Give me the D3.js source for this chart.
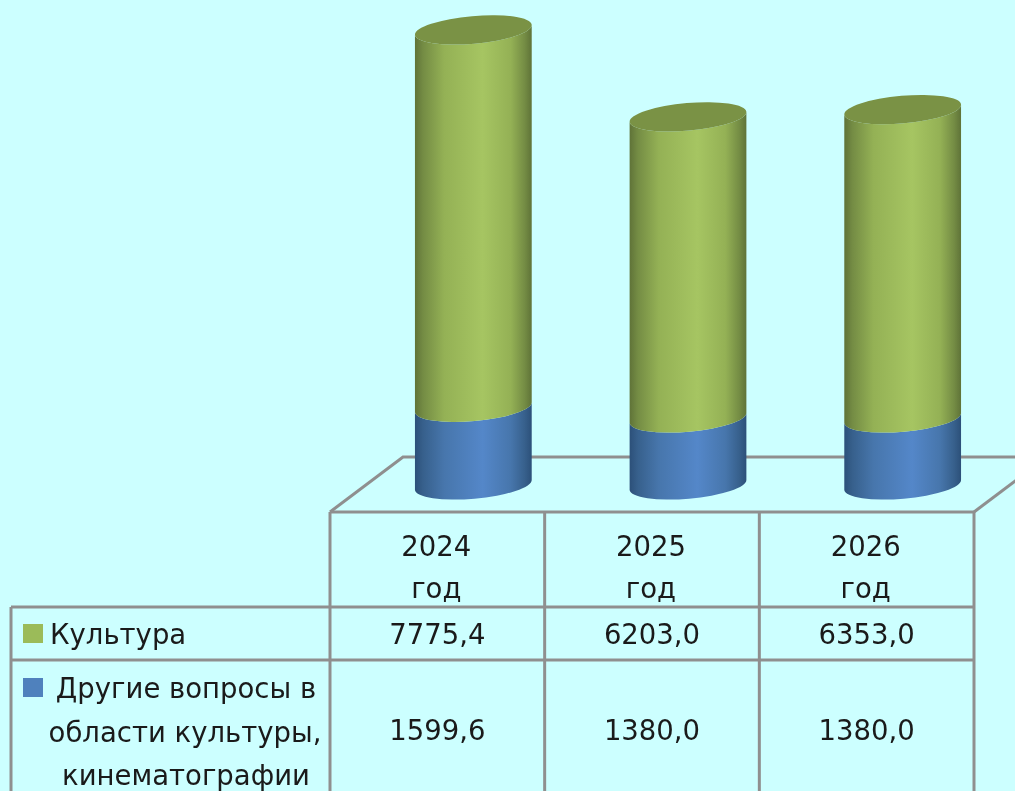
<!DOCTYPE html>
<html lang="ru">
<head>
<meta charset="utf-8">
<title>Культура</title>
<script src="https://d3js.org/d3.v7.min.js"></script>
<style>
	html, body { margin: 0; padding: 0; background: #ccffff; }
	svg { display: block; filter: blur(0.5px); }
	text { font-family: "DejaVu Sans", sans-serif; font-size: 27.5px; fill: #1a1a1a; }
</style>
</head>
<body>
<div id="chart"></div>
<script>
// Data
const years = ["2024", "2025", "2026"];
const yearUnit = "год";
const culture = [7775.4, 6203.0, 6353.0];
const otherCulture = [1599.6, 1380.0, 1380.0];
const seriesKeys = ["other", "culture"];
const cultureLabel = ["Культура"];
const otherLabel = ["Другие вопросы в", "области культуры,", "кинематографии"];

// Chart dimensions
const width = 1015;
const height = 791;
const table = { left: 11, x0: 330, x1: 974, top: 512, row1: 607, row2: 660 };
const floor = { back: 457, dx: 73 };
const cyl = { rx: 58.6, ry: 13.8, tilt: -5 };
const lineColor = "#8f8f8f";

const svg = d3.select("#chart").append("svg")
	.attr("width", width)
	.attr("height", height)
	.attr("viewBox", `0 0 ${width} ${height}`);

// Scales
const x = d3.scaleBand().domain(years).range([table.x0, table.x1]);
const y = d3.scaleLinear().domain([0, culture[0] + otherCulture[0]]).range([490, 35]);

const format = d3.formatLocale({ decimal: ",", thousands: "", grouping: [3], currency: ["", ""] }).format(".1f");

const rows = years.map((year, i) => ({ year, culture: culture[i], other: otherCulture[i] }));
const stacked = d3.stack().keys(seriesKeys)(rows);

// Gradients
const defs = svg.append("defs");
function addGradient(id, edge, low, mid, peak) {
	defs.append("linearGradient").attr("id", id)
		.selectAll("stop")
		.data([[0, edge], [0.07, low], [0.25, mid], [0.58, peak], [0.82, mid], [0.94, low], [1, edge]])
		.join("stop")
		.attr("offset", d => d[0])
		.attr("stop-color", d => d[1]);
}
addGradient("grad-culture", "#5f7338", "#748c44", "#94b155", "#a6c562");
addGradient("grad-other", "#2c5079", "#37608c", "#4776ac", "#5487c9");

// Floor lines behind the cylinders
const floorLine = svg.append("g")
	.attr("fill", "none")
	.attr("stroke", lineColor)
	.attr("stroke-width", 3);
floorLine.append("path").attr("d", `M${table.x0},${table.top}L${table.x0 + floor.dx},${floor.back}L${width},${floor.back}`);
floorLine.append("path").attr("d", `M${table.x1},${table.top}L${table.x1 + floor.dx},${floor.back}`);

// Cylinders
const tiltRad = cyl.tilt * Math.PI / 180;
const ex = cyl.rx * Math.cos(tiltRad);
const ey = cyl.rx * Math.sin(tiltRad);
const centre = year => x(year) + x.bandwidth() / 2 + 36;
// y scale gives the height at the left edge, centre of the ellipse sits above it
const left = (year, v) => [centre(year) - ex, y(v)];
const right = (year, v) => [centre(year) + ex, y(v) + 2 * ey];
const arc = (to, sweep) => `A${cyl.rx},${cyl.ry} ${cyl.tilt} 0 ${sweep} ${to[0]},${to[1]}`;

stacked.forEach(layer => {
	const key = layer.key;
	const g = svg.append("g").attr("class", `series-${key}`);
	g.selectAll("path.side")
		.data(layer)
		.join("path")
		.attr("class", "side")
		.attr("fill", `url(#grad-${key})`)
		.attr("d", d => {
			const yr = d.data.year;
			return `M${left(yr, d[1])}` + arc(right(yr, d[1]), 0) +
				`L${right(yr, d[0])}` + arc(left(yr, d[0]), 1) + "Z";
		});
});

// Cylinder tops
svg.append("g").selectAll("path")
	.data(stacked[1])
	.join("path")
	.attr("fill", "#7a9245")
	.attr("d", d => {
		const yr = d.data.year;
		return `M${left(yr, d[1])}` + arc(right(yr, d[1]), 0) + arc(left(yr, d[1]), 0) + "Z";
	});

// Table grid
const grid = svg.append("g")
	.attr("stroke", lineColor)
	.attr("stroke-width", 3)
	.attr("fill", "none");
grid.append("line").attr("x1", table.x0).attr("x2", table.x1).attr("y1", table.top).attr("y2", table.top);
[table.row1, table.row2].forEach(v => {
	grid.append("line").attr("x1", table.left).attr("x2", table.x1).attr("y1", v).attr("y2", v);
});
grid.append("line").attr("x1", table.left).attr("x2", table.left).attr("y1", table.row1).attr("y2", height);
[...years.map(x), table.x1].forEach(v => {
	grid.append("line").attr("x1", v).attr("x2", v).attr("y1", table.top).attr("y2", height);
});

// Table text
const colText = (values, yPos, fn, shift = 0) => svg.append("g").selectAll("text")
	.data(values)
	.join("text")
	.attr("x", (d, i) => x(years[i]) + x.bandwidth() / 2 + shift)
	.attr("y", yPos)
	.attr("text-anchor", "middle")
	.text(fn);

colText(years, 556, d => d, -1);
colText(years, 598, () => yearUnit, -1);
colText(culture, 644, format);
colText(otherCulture, 740, format);

// Legend keys
svg.append("rect").attr("x", 23).attr("y", 624).attr("width", 20).attr("height", 19).attr("fill", "#9bbb59");
svg.append("rect").attr("x", 23).attr("y", 678).attr("width", 20).attr("height", 19).attr("fill", "#4f81bd");

svg.append("text").attr("x", 50).attr("y", 644).text(cultureLabel[0]);
svg.selectAll("text.other-label")
	.data(otherLabel)
	.join("text")
	.attr("class", "other-label")
	.attr("x", (d, i) => 186 + [0, -1, 0][i])
	.attr("y", (d, i) => 698 + i * 43.5)
	.attr("text-anchor", "middle")
	.text(d => d);
</script>
</body>
</html>
